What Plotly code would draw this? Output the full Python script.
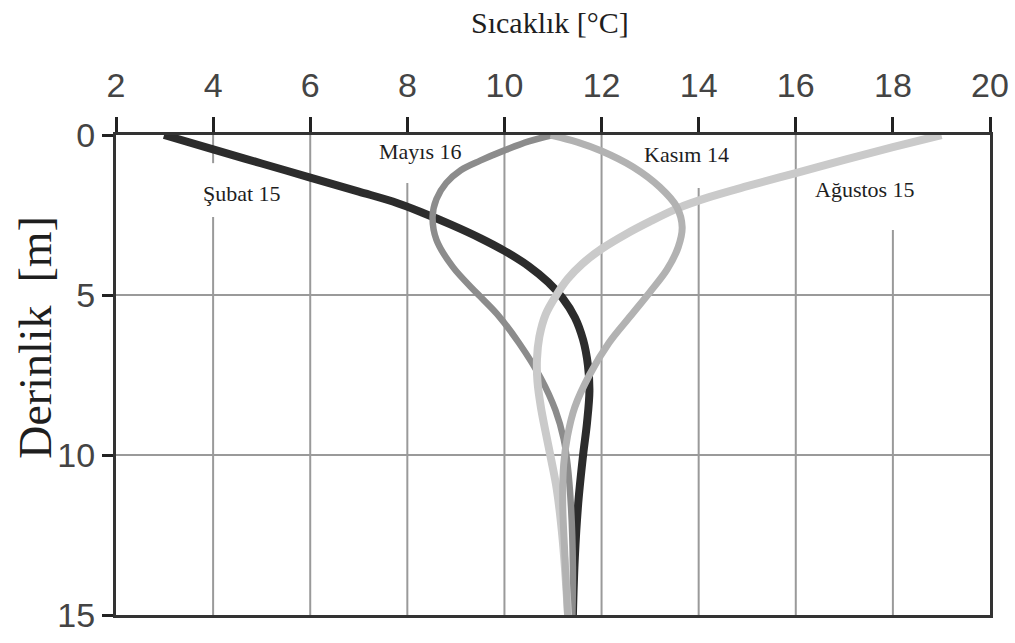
import plotly.graph_objects as go

# ---- data ----
x_ticks = [2, 4, 6, 8, 10, 12, 14, 16, 18, 20]
y_ticks = [0, 5, 10, 15]

subat_T = [2.99, 4.0, 5.0, 6.0, 7.0, 7.7, 8.3, 8.9, 9.5, 10.0, 10.5, 10.9, 11.2, 11.45, 11.62, 11.72, 11.75, 11.7, 11.62, 11.52, 11.45, 11.41]
subat_d = [0, 0.45, 0.89, 1.33, 1.77, 2.08, 2.42, 2.8, 3.22, 3.62, 4.1, 4.6, 5.1, 5.7, 6.4, 7.2, 8.0, 9.0, 10.0, 11.5, 13.2, 15]

mayis_T = [11.0, 10.5, 10.0, 9.5, 9.1, 8.8, 8.6, 8.52, 8.6, 8.94, 9.43, 9.85, 10.3, 10.75, 11.05, 11.22, 11.3, 11.37, 11.41, 11.4]
mayis_d = [0, 0.2, 0.48, 0.8, 1.1, 1.5, 2.0, 2.55, 3.28, 4.13, 4.94, 5.6, 6.5, 7.6, 8.6, 9.5, 10.3, 11.6, 13.5, 15]

kasim_T = [10.95, 11.5, 12.0, 12.65, 13.2, 13.55, 13.66, 13.58, 13.35, 13.0, 12.6, 12.15, 11.75, 11.45, 11.3, 11.22, 11.2, 11.24, 11.3]
kasim_d = [0, 0.22, 0.5, 1.0, 1.63, 2.25, 2.88, 3.5, 4.2, 4.9, 5.65, 6.5, 7.5, 8.5, 9.4, 10.3, 11.5, 13, 15]

agustos_T = [19.0, 18.0, 17.0, 16.0, 15.0, 14.2, 13.6, 13.0, 12.5, 12.0, 11.6, 11.3, 11.05, 10.85, 10.72, 10.67, 10.68, 10.75, 10.85, 10.97, 11.08, 11.2, 11.31]
agustos_d = [0, 0.38, 0.78, 1.19, 1.6, 1.95, 2.27, 2.7, 3.1, 3.56, 4.03, 4.5, 5.05, 5.6, 6.3, 7.0, 7.7, 8.5, 9.3, 10.2, 11.09, 12.66, 15]

series_names = ["Şubat 15", "Mayıs 16", "Ağustos 15", "Kasım 14"]
label_T = [4.59, 8.28, 17.42, 13.74]
label_d = [1.84, 0.53, 1.69, 0.61]

# vertical grid segments (x position, depth from, depth to)
vgrid = [(4, 0, 0.88), (4, 2.56, 15), (6, 0, 15), (8, 1.5, 15), (10, 0, 15),
         (12, 0, 15), (14, 1.66, 15), (16, 0, 15), (18, 2.97, 15)]

fig = go.Figure()

styles = [
    (subat_T, subat_d, "#2c2c2c", 8, "Şubat 15"),
    (mayis_T, mayis_d, "#8c8c8c", 6.5, "Mayıs 16"),
    (agustos_T, agustos_d, "#cacaca", 8, "Ağustos 15"),
    (kasim_T, kasim_d, "#b2b2b2", 7, "Kasım 14"),
]
for T, d, c, w, n in styles:
    fig.add_trace(go.Scatter(x=T, y=d, mode="lines", name=n,
                             line=dict(color=c, width=w, shape="spline", smoothing=1.0),
                             showlegend=False))

shapes = []
for xv, d0, d1 in vgrid:
    shapes.append(dict(type="line", xref="x", yref="y", x0=xv, x1=xv, y0=d0, y1=d1,
                       line=dict(color="#9a9a9a", width=2), layer="below"))

serif = "Liberation Serif, Times New Roman, serif"
annotations = []
for name, t, d in zip(series_names, label_T, label_d):
    annotations.append(dict(x=t, y=d, xref="x", yref="y", text=name, showarrow=False,
                            font=dict(family=serif, size=22, color="#1e1e1e")))

annotations.append(dict(x=0.497, y=1.235, xref="paper", yref="paper", text="Sıcaklık [°C]",
                        showarrow=False, xanchor="center", yanchor="middle",
                        font=dict(family=serif, size=30, color="#1e1e1e")))
annotations.append(dict(x=-0.093, y=0.579, xref="paper", yref="paper", text="Derinlik  [m]",
                        showarrow=False, xanchor="center", yanchor="middle", textangle=-90,
                        font=dict(family=serif, size=46, color="#1e1e1e")))

tickfont = dict(family="Liberation Sans, Arial, sans-serif", size=34, color="#444444")

fig.update_layout(
    width=1015, height=643,
    margin=dict(l=116, r=25, t=135, b=28),
    paper_bgcolor="white", plot_bgcolor="white",
    shapes=shapes, annotations=annotations,
    xaxis=dict(side="top", range=[2, 20], tickvals=x_ticks, ticks="outside", ticklen=15,
               tickwidth=3, tickcolor="#222222", showline=True, linecolor="#333333", linewidth=3,
               mirror=True, showgrid=False, zeroline=False, tickfont=tickfont,
               ticklabelstandoff=6, automargin=False),
    yaxis=dict(range=[15, 0], tickvals=y_ticks, ticks="outside", ticklen=11, tickwidth=3,
               tickcolor="#222222", showline=True, linecolor="#333333", linewidth=3, mirror=True,
               showgrid=True, gridcolor="#9a9a9a", gridwidth=2, zeroline=False, tickfont=tickfont,
               automargin=False),
)

fig.write_html("out.html")
